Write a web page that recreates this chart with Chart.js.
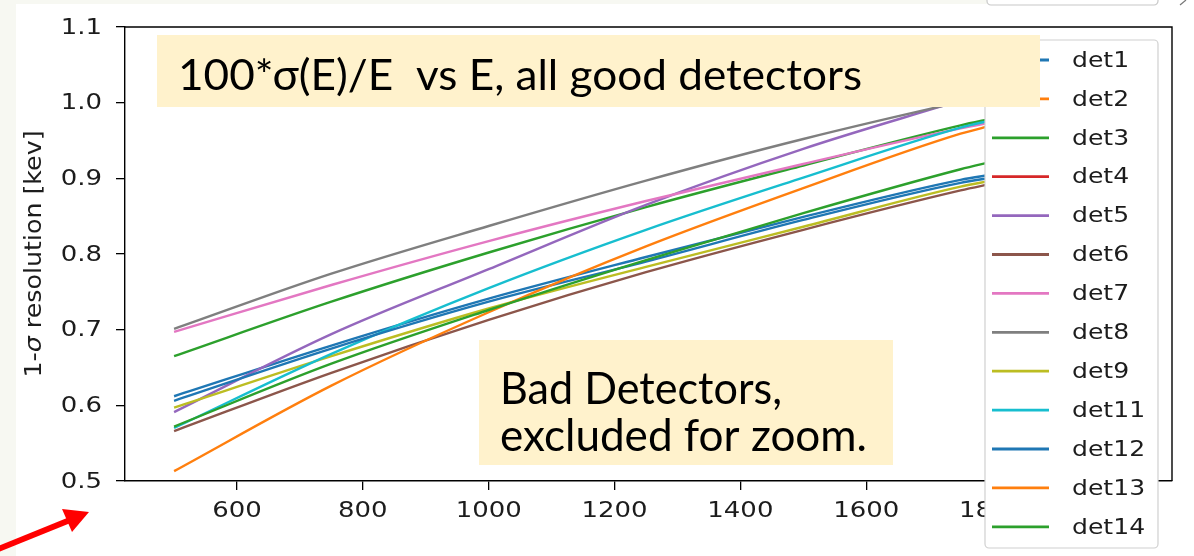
<!DOCTYPE html>
<html>
<head>
<meta charset="utf-8">
<script src="https://cdn.jsdelivr.net/npm/chart.js@4.4.1/dist/chart.umd.min.js"></script>
<style>
  html, body { margin: 0; padding: 0; background: #fff; }
  canvas { display: block; }
</style>
</head>
<body>
<canvas id="resChart" width="1194" height="556"></canvas>
<script>
const energies = [500, 750, 1000, 1250, 1500, 1750, 1800];

// 1-sigma resolution [keV] per detector (det2, det4 are outside the zoomed range)
const det1  = [0.612, 0.679, 0.741, 0.796, 0.849, 0.898, 0.905];
const det2  = [null, null, null, null, null, null, null];
const det3  = [0.665, 0.737, 0.802, 0.862, 0.917, 0.970, 0.979];
const det4  = [null, null, null, null, null, null, null];
const det5  = [0.591, 0.694, 0.780, 0.865, 0.939, 1.003, 1.016];
const det6  = [0.566, 0.643, 0.713, 0.776, 0.832, 0.884, 0.893];
const det7  = [0.697, 0.759, 0.817, 0.870, 0.919, 0.966, 0.974];
const det8  = [0.701, 0.774, 0.837, 0.897, 0.952, 1.001, 1.010];
const det9  = [0.597, 0.665, 0.728, 0.783, 0.836, 0.889, 0.897];
const det11 = [0.570, 0.668, 0.755, 0.832, 0.901, 0.967, 0.977];
const det12 = [0.606, 0.675, 0.737, 0.790, 0.845, 0.894, 0.901];
const det13 = [0.513, 0.626, 0.723, 0.810, 0.887, 0.959, 0.970];
const det14 = [0.572, 0.655, 0.726, 0.792, 0.854, 0.912, 0.922];

const detNames = ['det1', 'det2', 'det3', 'det4', 'det5', 'det6', 'det7',
                  'det8', 'det9', 'det11', 'det12', 'det13', 'det14'];
const detValues = [det1, det2, det3, det4, det5, det6, det7,
                   det8, det9, det11, det12, det13, det14];
const detColors = ['#1f77b4', '#ff7f0e', '#2ca02c', '#d62728', '#9467bd', '#8c564b', '#e377c2',
                   '#7f7f7f', '#bcbd22', '#17becf', '#1f77b4', '#ff7f0e', '#2ca02c'];

const yTicks = [0.5, 0.6, 0.7, 0.8, 0.9, 1.0, 1.1];
const xTicks = [600, 800, 1000, 1200, 1400, 1600, 1800, 2000];

const titleText = '100*σ(E)/E  vs E, all good detectors';
const noteLines = ['Bad Detectors,', 'excluded for zoom.'];

const textColor = '#1c1c1c';
const stretch = 1.18; // the slide picture is a bit wider than tall

// build datasets
const datasets = detNames.map((name, i) => ({
  label: name,
  data: energies.map((e, k) => ({ x: e, y: detValues[i][k] })),
  borderColor: detColors[i],
  backgroundColor: detColors[i],
  borderWidth: 2.4,
  pointRadius: 0,
  cubicInterpolationMode: 'monotone',
  order: -i
}));

// draw text squeezed/stretched into a given width
function fitText(ctx, text, x, y, width, font) {
  ctx.save();
  ctx.font = font;
  const w = ctx.measureText(text).width;
  ctx.translate(x, y);
  ctx.scale(width / w, 1);
  ctx.fillText(text, 0, 0);
  ctx.restore();
}

function wideText(ctx, text, x, y, align) {
  ctx.save();
  const w = ctx.measureText(text).width * stretch;
  let x0 = x;
  if (align === 'right') x0 = x - w;
  if (align === 'center') x0 = x - w / 2;
  ctx.translate(x0, y);
  ctx.scale(stretch, 1);
  ctx.fillText(text, 0, 0);
  ctx.restore();
}

// slide decorations, tick labels, legend and note boxes
const overlayPlugin = {
  id: 'overlay',
  beforeDraw(chart) {
    const ctx = chart.ctx;
    ctx.save();
    ctx.fillStyle = '#f7f8f2';
    ctx.fillRect(0, 0, 16, 556);
    ctx.fillRect(0, 0, 987, 4);
    ctx.restore();
  },
  afterDraw(chart) {
    const ctx = chart.ctx;
    const a = chart.chartArea;
    const xs = chart.scales.x, ys = chart.scales.y;
    ctx.save();

    // top and right spines
    ctx.strokeStyle = '#000';
    ctx.lineWidth = 1.4;
    ctx.beginPath();
    ctx.moveTo(a.left, a.top);
    ctx.lineTo(a.right, a.top);
    ctx.lineTo(a.right, a.bottom);
    ctx.stroke();

    // tick labels
    ctx.fillStyle = textColor;
    ctx.font = '22px "DejaVu Sans"';
    ctx.textBaseline = 'middle';
    yTicks.forEach(v => wideText(ctx, v.toFixed(1), 102, ys.getPixelForValue(v) + 1, 'right'));
    xTicks.forEach(v => wideText(ctx, String(v), xs.getPixelForValue(v), 511, 'center'));

    // y axis title
    ctx.save();
    ctx.translate(41, 254);
    ctx.rotate(-Math.PI / 2);
    ctx.textBaseline = 'alphabetic';
    const parts = [['1-', '23px "DejaVu Sans"'], ['σ', 'italic 23px "DejaVu Sans"'],
                   [' resolution [kev]', '23px "DejaVu Sans"']];
    let total = 0;
    parts.forEach(p => { ctx.font = p[1]; total += ctx.measureText(p[0]).width; });
    const k = 247 / total;
    ctx.scale(k, 1);
    let px = -total / 2;
    parts.forEach(p => { ctx.font = p[1]; ctx.fillText(p[0], px, 0); px += ctx.measureText(p[0]).width; });
    ctx.restore();

    // legend
    const lx = 985, ly = 40, lw = 173, lh = 508;
    ctx.fillStyle = '#fff';
    ctx.strokeStyle = '#d0d0d0';
    ctx.lineWidth = 1.2;
    ctx.beginPath();
    ctx.roundRect(lx, ly, lw, lh, 4);
    ctx.fill();
    ctx.stroke();
    ctx.textBaseline = 'middle';
    ctx.font = '22px "DejaVu Sans"';
    chart.data.datasets.forEach((ds, i) => {
      const yy = 60 + i * 38.9;
      ctx.strokeStyle = ds.borderColor;
      ctx.lineWidth = 2.8;
      ctx.beginPath();
      ctx.moveTo(992, yy);
      ctx.lineTo(1049, yy);
      ctx.stroke();
      ctx.fillStyle = textColor;
      ctx.save();
      ctx.translate(1072, yy + 1);
      ctx.scale(1.14, 1);
      ctx.fillText(ds.label, 0, 0);
      ctx.restore();
    });

    // note boxes
    ctx.fillStyle = '#fff2cc';
    ctx.fillRect(157, 35, 883, 72);
    ctx.fillRect(479, 340, 414, 125);
    ctx.fillStyle = '#000';
    ctx.textBaseline = 'alphabetic';
    fitText(ctx, titleText, 178, 90, 684, '42px Lato');
    fitText(ctx, noteLines[0], 500, 404, 282, '45px Lato');
    fitText(ctx, noteLines[1], 500, 451, 367, '45px Lato');

    // top-right button remnant of the slide
    ctx.strokeStyle = '#c8c8c8';
    ctx.lineWidth = 1.2;
    ctx.beginPath();
    ctx.roundRect(987, -10, 171, 15, 4);
    ctx.stroke();
    ctx.strokeStyle = '#777';
    ctx.beginPath();
    ctx.moveTo(1180, 5);
    ctx.lineTo(1186, 0);
    ctx.stroke();

    // red arrow
    ctx.strokeStyle = '#ff0000';
    ctx.fillStyle = '#ff0000';
    ctx.lineWidth = 6;
    ctx.beginPath();
    ctx.moveTo(-4, 550);
    ctx.lineTo(70, 520);
    ctx.stroke();
    ctx.beginPath();
    ctx.moveTo(89, 512);
    ctx.lineTo(72, 532);
    ctx.lineTo(62, 509);
    ctx.closePath();
    ctx.fill();

    ctx.restore();
  }
};

new Chart(document.getElementById('resChart').getContext('2d'), {
  type: 'line',
  data: { datasets },
  options: {
    responsive: false,
    animation: false,
    spanGaps: false,
    layout: { padding: { left: 0, top: 27, right: 22, bottom: 0 } },
    plugins: {
      legend: { display: false },
      tooltip: { enabled: false }
    },
    scales: {
      x: {
        type: 'linear',
        min: 422,
        max: 2086,
        afterFit: (scale) => { scale.height = 75; },
        afterBuildTicks: (scale) => { scale.ticks = xTicks.map(v => ({ value: v })); },
        border: { display: true, color: '#000', width: 1.4 },
        grid: { drawOnChartArea: false, drawTicks: true, tickLength: 9, color: '#000', lineWidth: 1.3 },
        ticks: { display: false }
      },
      y: {
        min: 0.5,
        max: 1.1,
        afterFit: (scale) => { scale.width = 125; },
        afterBuildTicks: (scale) => { scale.ticks = yTicks.map(v => ({ value: v })); },
        border: { display: true, color: '#000', width: 1.4 },
        grid: { drawOnChartArea: false, drawTicks: true, tickLength: 9, color: '#000', lineWidth: 1.3 },
        ticks: { display: false }
      }
    }
  },
  plugins: [overlayPlugin]
});
</script>
</body>
</html>
